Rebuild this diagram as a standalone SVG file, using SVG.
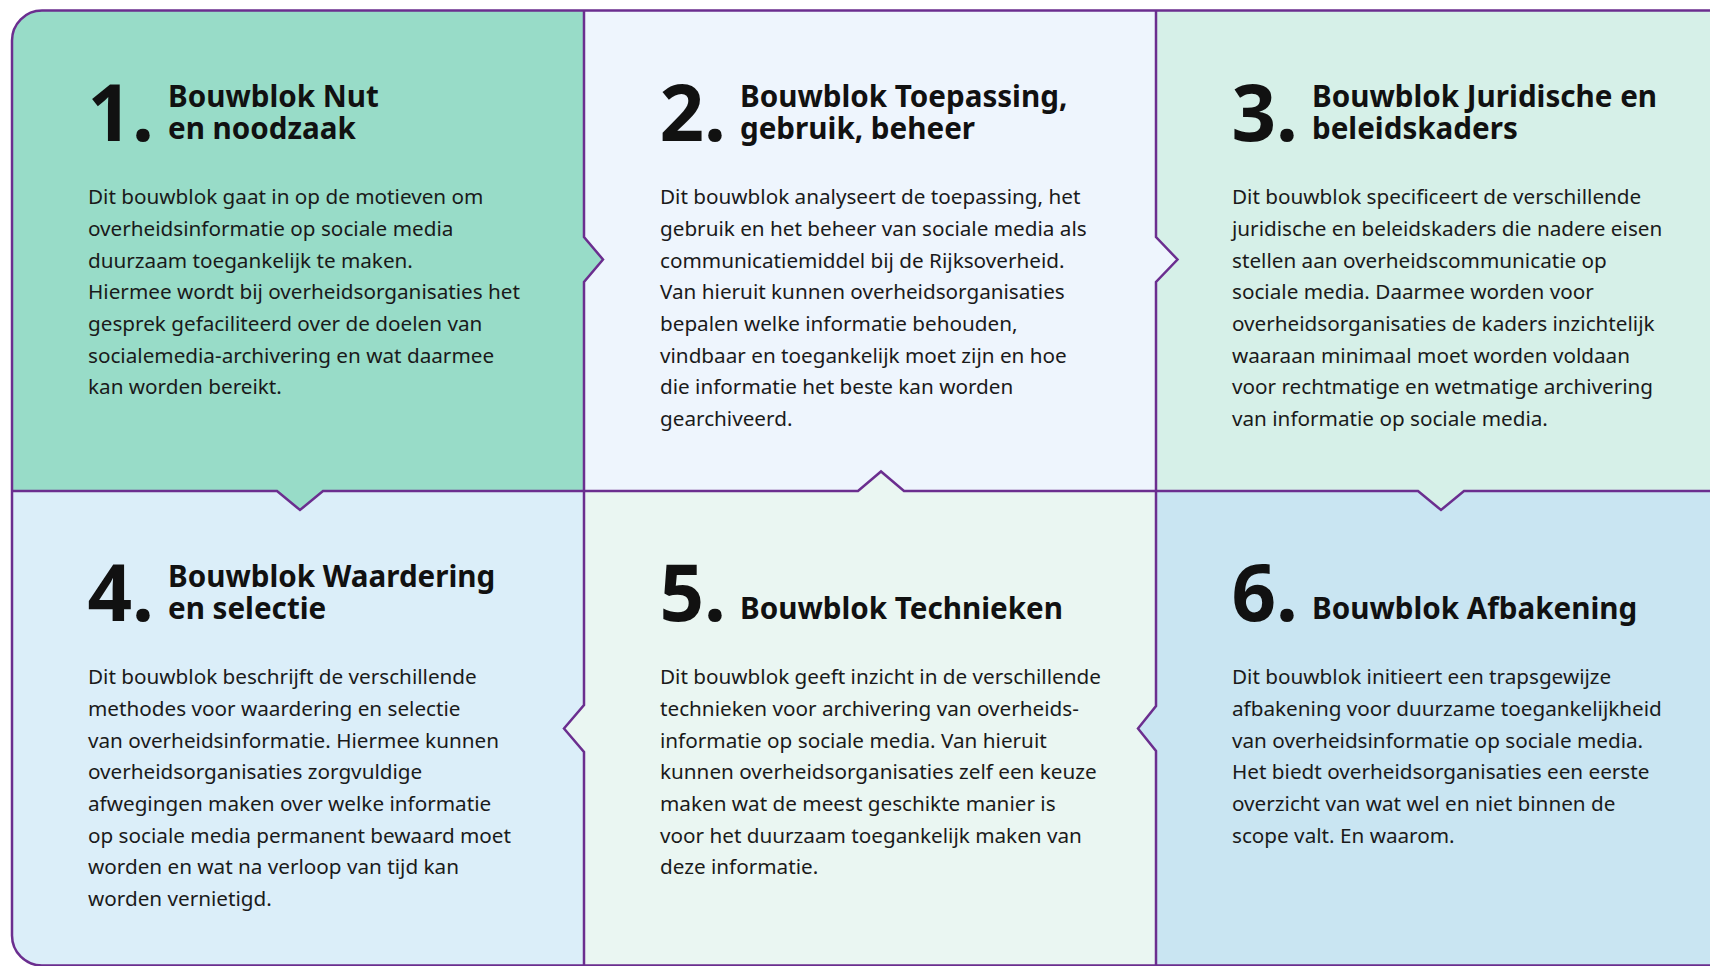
<svg xmlns="http://www.w3.org/2000/svg" width="1710" height="966" viewBox="0 0 1710 966">
<style>
.num{font-family:"Noto Sans","Open Sans",sans-serif;font-weight:700;font-size:78px;fill:#111;text-anchor:end}
.hd{font-family:"Noto Sans","Open Sans",sans-serif;font-weight:700;font-size:29.6px;fill:#111}
.bd{font-family:"Noto Sans","Open Sans",sans-serif;font-size:20.7px;fill:#1a1a1a}
.ln{fill:none;stroke:#6b2e8f;stroke-width:2.5;stroke-linejoin:miter}
</style>
<defs>
<clipPath id="frame"><rect x="12" y="10.5" width="1730" height="955" rx="30"/></clipPath>
</defs>
<rect width="1710" height="966" fill="#ffffff"/>
<g clip-path="url(#frame)">
<g id="panel-1">
<rect x="0" y="0" width="584" height="491" fill="#98dcc8"/>
</g>
<g id="panel-2">
<rect x="584" y="0" width="572" height="491" fill="#eef5fd"/>
</g>
<g id="panel-3">
<rect x="1156" y="0" width="600" height="491" fill="#d6f0e8"/>
</g>
<g id="panel-4">
<rect x="0" y="491" width="584" height="500" fill="#dbeef9"/>
</g>
<g id="panel-5">
<rect x="584" y="491" width="572" height="500" fill="#eaf6f2"/>
</g>
<g id="panel-6">
<rect x="1156" y="491" width="600" height="500" fill="#c9e5f2"/>
</g>
<g id="notches">
<polygon points="584,237 603,259.5 584,282" fill="#98dcc8"/>
<polygon points="1156,237 1177.5,259.5 1156,282" fill="#eef5fd"/>
<polygon points="277,491 300,510 323,491" fill="#98dcc8"/>
<polygon points="858,491 881,471.5 904,491" fill="#eaf6f2"/>
<polygon points="1418,491 1441,510 1464,491" fill="#d6f0e8"/>
<polygon points="584,705 564,728.5 584,752" fill="#eaf6f2"/>
<polygon points="1156,706 1138,728.5 1156,751" fill="#c9e5f2"/>
</g>
<g id="connectors">
<path class="ln" d="M584,0 V237 L603,259.5 L584,282 V705 L564,728.5 L584,752 V966"/>
<path class="ln" d="M1156,0 V237 L1177.5,259.5 L1156,282 V706 L1138,728.5 L1156,751 V966"/>
<path class="ln" d="M0,491 H277 L300,510 L323,491 H858 L881,471.5 L904,491 H1418 L1441,510 L1464,491 H1710"/>
</g>
</g>
<rect class="ln" x="12" y="10.5" width="1730" height="955" rx="30"/>

<g id="text-1">
<text class="num" x="154" y="141">1.</text>
<text class="hd" x="168" y="107">Bouwblok Nut</text>
<text class="hd" x="168" y="139">en noodzaak</text>
<text class="bd" x="88" y="204.3"><tspan x="88">Dit bouwblok gaat in op de motieven om</tspan><tspan x="88" dy="31.65">overheidsinformatie op sociale media</tspan><tspan x="88" dy="31.65">duurzaam toegankelijk te maken.</tspan><tspan x="88" dy="31.65">Hiermee wordt bij overheidsorganisaties het</tspan><tspan x="88" dy="31.65">gesprek gefaciliteerd over de doelen van</tspan><tspan x="88" dy="31.65">socialemedia-archivering en wat daarmee</tspan><tspan x="88" dy="31.65">kan worden bereikt.</tspan></text>
</g>
<g id="text-2">
<text class="num" x="726" y="141">2.</text>
<text class="hd" x="740" y="107">Bouwblok Toepassing,</text>
<text class="hd" x="740" y="139">gebruik, beheer</text>
<text class="bd" x="660" y="204.3"><tspan x="660">Dit bouwblok analyseert de toepassing, het</tspan><tspan x="660" dy="31.65">gebruik en het beheer van sociale media als</tspan><tspan x="660" dy="31.65">communicatiemiddel bij de Rijksoverheid.</tspan><tspan x="660" dy="31.65">Van hieruit kunnen overheidsorganisaties</tspan><tspan x="660" dy="31.65">bepalen welke informatie behouden,</tspan><tspan x="660" dy="31.65">vindbaar en toegankelijk moet zijn en hoe</tspan><tspan x="660" dy="31.65">die informatie het beste kan worden</tspan><tspan x="660" dy="31.65">gearchiveerd.</tspan></text>
</g>
<g id="text-3">
<text class="num" x="1298" y="141">3.</text>
<text class="hd" x="1312" y="107">Bouwblok Juridische en</text>
<text class="hd" x="1312" y="139">beleidskaders</text>
<text class="bd" x="1232" y="204.3"><tspan x="1232">Dit bouwblok specificeert de verschillende</tspan><tspan x="1232" dy="31.65">juridische en beleidskaders die nadere eisen</tspan><tspan x="1232" dy="31.65">stellen aan overheidscommunicatie op</tspan><tspan x="1232" dy="31.65">sociale media. Daarmee worden voor</tspan><tspan x="1232" dy="31.65">overheidsorganisaties de kaders inzichtelijk</tspan><tspan x="1232" dy="31.65">waaraan minimaal moet worden voldaan</tspan><tspan x="1232" dy="31.65">voor rechtmatige en wetmatige archivering</tspan><tspan x="1232" dy="31.65">van informatie op sociale media.</tspan></text>
</g>
<g id="text-4">
<text class="num" x="154" y="621">4.</text>
<text class="hd" x="168" y="587">Bouwblok Waardering</text>
<text class="hd" x="168" y="619">en selectie</text>
<text class="bd" x="88" y="684.3"><tspan x="88">Dit bouwblok beschrijft de verschillende</tspan><tspan x="88" dy="31.65">methodes voor waardering en selectie</tspan><tspan x="88" dy="31.65">van overheidsinformatie. Hiermee kunnen</tspan><tspan x="88" dy="31.65">overheidsorganisaties zorgvuldige</tspan><tspan x="88" dy="31.65">afwegingen maken over welke informatie</tspan><tspan x="88" dy="31.65">op sociale media permanent bewaard moet</tspan><tspan x="88" dy="31.65">worden en wat na verloop van tijd kan</tspan><tspan x="88" dy="31.65">worden vernietigd.</tspan></text>
</g>
<g id="text-5">
<text class="num" x="726" y="621">5.</text>
<text class="hd" x="740" y="619">Bouwblok Technieken</text>
<text class="bd" x="660" y="684.3"><tspan x="660">Dit bouwblok geeft inzicht in de verschillende</tspan><tspan x="660" dy="31.65">technieken voor archivering van overheids-</tspan><tspan x="660" dy="31.65">informatie op sociale media. Van hieruit</tspan><tspan x="660" dy="31.65">kunnen overheidsorganisaties zelf een keuze</tspan><tspan x="660" dy="31.65">maken wat de meest geschikte manier is</tspan><tspan x="660" dy="31.65">voor het duurzaam toegankelijk maken van</tspan><tspan x="660" dy="31.65">deze informatie.</tspan></text>
</g>
<g id="text-6">
<text class="num" x="1298" y="621">6.</text>
<text class="hd" x="1312" y="619">Bouwblok Afbakening</text>
<text class="bd" x="1232" y="684.3"><tspan x="1232">Dit bouwblok initieert een trapsgewijze</tspan><tspan x="1232" dy="31.65">afbakening voor duurzame toegankelijkheid</tspan><tspan x="1232" dy="31.65">van overheidsinformatie op sociale media.</tspan><tspan x="1232" dy="31.65">Het biedt overheidsorganisaties een eerste</tspan><tspan x="1232" dy="31.65">overzicht van wat wel en niet binnen de</tspan><tspan x="1232" dy="31.65">scope valt. En waarom.</tspan></text>
</g>
</svg>
